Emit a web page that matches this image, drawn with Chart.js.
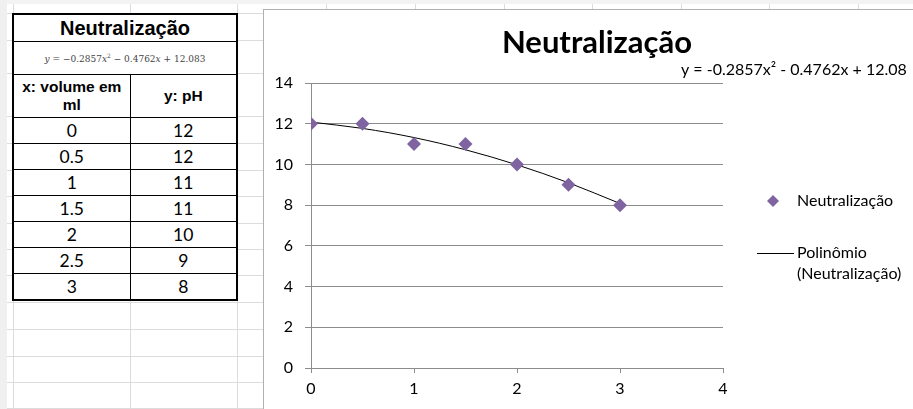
<!DOCTYPE html>
<html>
<head>
<meta charset="utf-8">
<script src="https://cdn.jsdelivr.net/npm/chart.js@4.4.1/dist/chart.umd.min.js"></script>
<style>
  html, body { margin: 0; padding: 0; width: 913px; height: 409px; overflow: hidden; background: #fff; }
  #sheet { position: absolute; left: 0; top: 0; width: 913px; height: 409px; }
  .gl { position: absolute; background: #dcdcdc; }
  #colhead { position: absolute; left: 0; top: 0; width: 913px; height: 4px; background: #f3f3f3; }
  #rowhead { position: absolute; left: 0; top: 0; width: 7px; height: 409px; background: #f0f0f0; }
  table { position: absolute; left: 12px; top: 13px; border-collapse: collapse; border: 2px solid #000; background: #fff; }
  td { border: 1px solid #000; padding: 0; text-align: center; color: #000; }
  td.title { font: bold 20px "Liberation Sans", Arial, sans-serif; height: 26px; }
  td.eq { font: 9px "DejaVu Serif", serif; color: #444; height: 32px; }
  td.head { font: bold 15.5px "Liberation Sans", Arial, sans-serif; height: 42px; line-height: 18px; }
  td.num { font: 17.5px "Lato", sans-serif; height: 25px; }
  #frame { position: absolute; left: 263px; top: 9px; width: 700px; height: 420px; border-left: 1px solid #b0b0b0; border-top: 1px solid #b0b0b0; background: #fff; }
  #wrap { position: absolute; left: 264px; top: 10px; width: 664px; height: 400px; }
  #chart { display: block; width: 664px; height: 400px; }
</style>
</head>
<body>
<div id="sheet">
  <div id="colhead"></div>
  <div id="rowhead"></div>
</div>
<table id="tbl"></table>
<div id="frame"></div>
<div id="wrap"><canvas id="chart" width="664" height="400"></canvas></div>
<script>
// Titration readings: added volume (ml) and measured pH
const volumes = [0, 0.5, 1, 1.5, 2, 2.5, 3];
const phValues = [12, 12, 11, 11, 10, 9, 8];
// Fitted polynomial curve values at the same volumes
const trendValues = [12.08, 11.77, 11.32, 10.72, 9.98, 9.10, 8.08];
const chartTitle = 'Neutralização';
const equationText = 'y = -0.2857x² - 0.4762x + 12.08';
const seriesName = 'Neutralização';
const trendName = ['Polinômio', '(Neutralização)'];

// Spreadsheet gridlines behind everything
const sheet = document.getElementById('sheet');
const colLines = [13, 130, 237, 326, 415, 504, 592, 681, 769, 858];
const rowLines = [13, 40, 73, 116, 143, 170, 196, 223, 249, 275, 302, 329, 356, 382, 408];
colLines.forEach(x => {
  const d = document.createElement('div');
  d.className = 'gl';
  d.style.cssText = `left:${x}px;top:4px;width:1px;height:405px;`;
  sheet.appendChild(d);
});
rowLines.forEach(y => {
  const d = document.createElement('div');
  d.className = 'gl';
  d.style.cssText = `left:7px;top:${y}px;width:906px;height:1px;`;
  sheet.appendChild(d);
});

// Data table
const tbl = document.getElementById('tbl');
let html = '<colgroup><col style="width:117px"><col style="width:107px"></colgroup>';
html += `<tr><td class="title" colspan="2">${chartTitle}</td></tr>`;
html += '<tr><td class="eq" colspan="2"><i>y</i> = −0.2857<i>x</i><sup style="font-size:6px">2</sup> − 0.4762<i>x</i> + 12.083</td></tr>';
html += '<tr><td class="head">x: volume em<br>ml</td><td class="head">y: pH</td></tr>';
volumes.forEach((v, i) => {
  html += `<tr><td class="num">${v}</td><td class="num">${phValues[i]}</td></tr>`;
});
tbl.innerHTML = html;

const FONT = 'Lato, "Open Sans", sans-serif';
const PURPLE = '#8064a2';

// Title, trendline equation and legend drawn in the chart's free space
const annotations = {
  id: 'annotations',
  afterDraw(chart) {
    const ctx = chart.ctx;
    ctx.save();
    ctx.fillStyle = '#000';
    ctx.textBaseline = 'middle';
    ctx.textAlign = 'center';
    ctx.font = `bold 31px ${FONT}`;
    ctx.fillText(chartTitle, 333, 33);
    ctx.textAlign = 'left';
    ctx.font = `16px ${FONT}`;
    ctx.fillText(equationText, 417, 60);

    // legend: marker series
    ctx.fillStyle = PURPLE;
    ctx.beginPath();
    ctx.moveTo(509, 185); ctx.lineTo(515, 191); ctx.lineTo(509, 197); ctx.lineTo(503, 191);
    ctx.closePath();
    ctx.fill();
    ctx.fillStyle = '#000';
    ctx.fillText(seriesName, 533, 191);
    // legend: trendline
    ctx.strokeStyle = '#000';
    ctx.lineWidth = 1;
    ctx.beginPath();
    ctx.moveTo(493, 243.5); ctx.lineTo(530, 243.5);
    ctx.stroke();
    ctx.fillText(trendName[0], 533, 243);
    ctx.fillText(trendName[1], 533, 264);
    ctx.restore();
  }
};

new Chart(document.getElementById('chart'), {
  type: 'scatter',
  data: {
    datasets: [
      {
        label: trendName.join(' '),
        data: volumes.map((v, i) => ({ x: v, y: trendValues[i] })),
        showLine: true,
        borderColor: '#000',
        borderWidth: 1,
        pointRadius: 0,
        cubicInterpolationMode: 'monotone',
        order: 2
      },
      {
        label: seriesName,
        data: volumes.map((v, i) => ({ x: v, y: phValues[i] })),
        pointStyle: 'rectRot',
        pointRadius: 7,
        pointBackgroundColor: PURPLE,
        pointBorderColor: PURPLE,
        pointBorderWidth: 0,
        showLine: false,
        order: 1
      }
    ]
  },
  options: {
    responsive: false,
    animation: false,
    devicePixelRatio: 1,
    layout: { padding: { left: 0, right: 205, top: 73, bottom: 12 } },
    plugins: {
      legend: { display: false },
      title: { display: false },
      tooltip: { enabled: false }
    },
    scales: {
      x: {
        type: 'linear',
        min: 0, max: 4,
        afterFit(scale) { scale.height = 30; },
        ticks: { stepSize: 1, color: '#000', font: { family: FONT, size: 16 }, padding: 6 },
        grid: { drawOnChartArea: false, drawTicks: true, tickLength: 5, color: '#8c8c8c' },
        border: { color: '#8c8c8c' }
      },
      y: {
        min: 0, max: 14,
        afterFit(scale) { scale.width = 47; },
        ticks: { stepSize: 2, color: '#000', font: { family: FONT, size: 16 }, padding: 12 },
        grid: { color: '#8c8c8c', tickLength: 6 },
        border: { color: '#8c8c8c' }
      }
    }
  },
  plugins: [annotations]
});
</script>
</body>
</html>
